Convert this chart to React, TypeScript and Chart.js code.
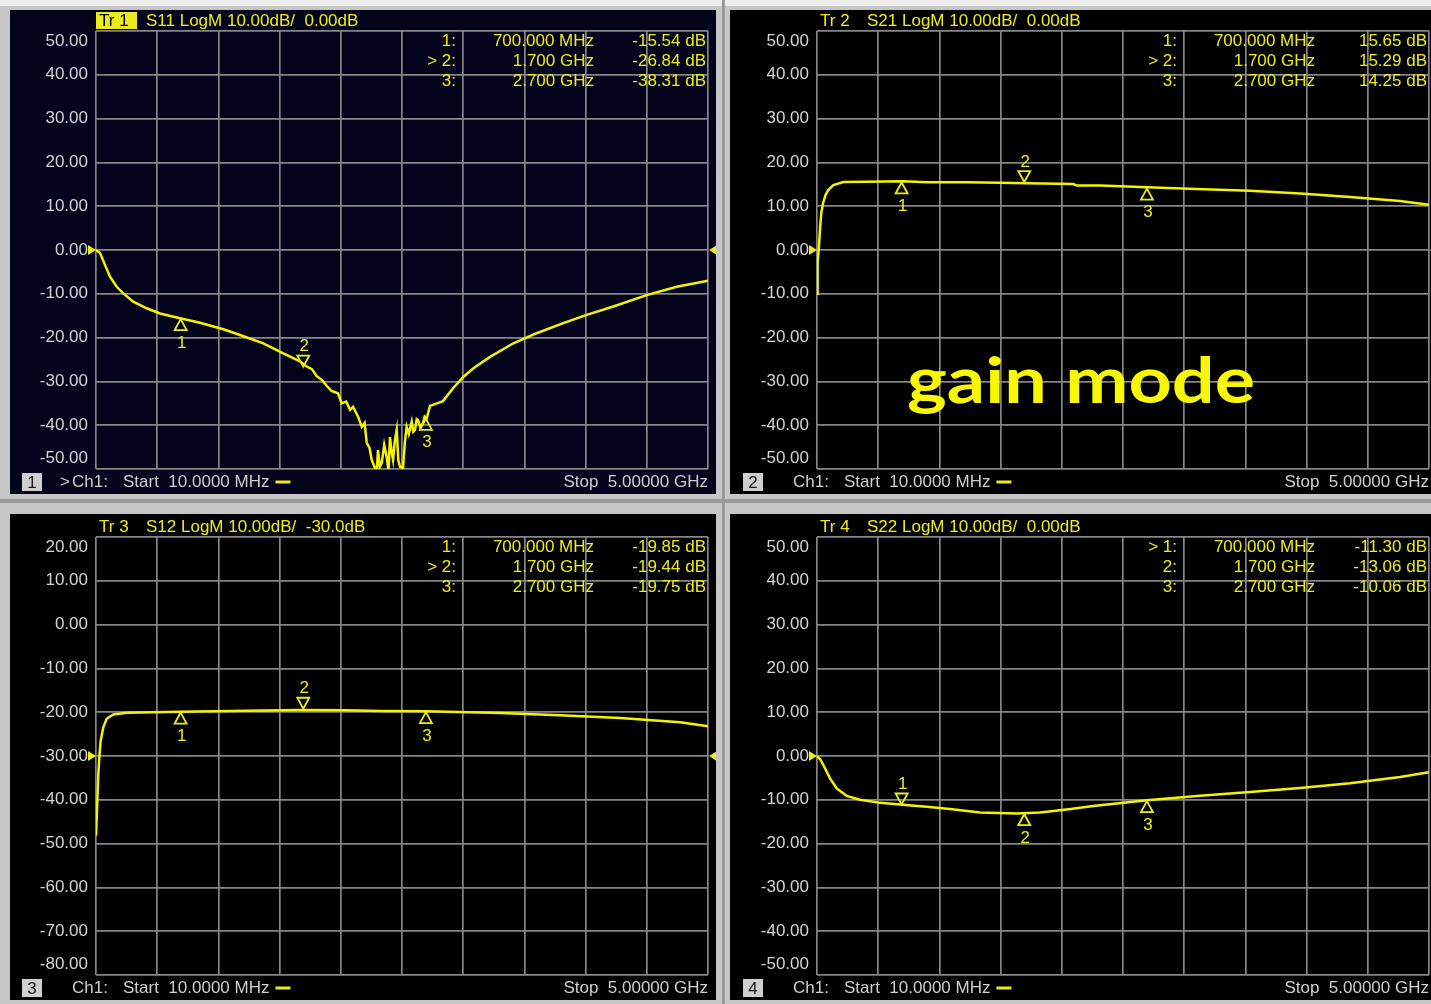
import React, { useEffect, useRef } from "react";
import { Chart, registerables } from "chart.js";
Chart.register(...registerables);

// ---------- data ----------
const xStartMHz = 10;
const xStopMHz = 5000;
const xDivisions = 10;

const markerFreqs = [700, 1700, 2700];
const markerFreqLabels = ["700.000 MHz", "1.700 GHz", "2.700 GHz"];

const s11Freq = [10, 43, 83, 124, 179, 233, 314, 423, 532, 695, 858, 1048, 1184, 1374, 1537, 1673, 1728, 1770, 1810, 1850, 1891, 1930, 1983, 2013, 2050, 2081, 2106, 2146, 2177, 2200, 2217, 2240, 2258, 2285, 2300, 2309, 2325, 2340, 2360, 2380, 2395, 2407, 2420, 2432, 2447, 2462, 2475, 2489, 2513, 2528, 2543, 2560, 2584, 2597, 2611, 2625, 2636, 2655, 2676, 2690, 2707, 2733, 2790, 2839, 2923, 3005, 3087, 3223, 3413, 3603, 3820, 4011, 4228, 4500, 4745, 5000];
const s11Db = [0, -0.7, -3.4, -6.1, -8.4, -9.9, -11.8, -13.3, -14.5, -15.6, -16.6, -18.1, -19.4, -21.3, -23.6, -25.4, -26.6, -27.2, -28.8, -29.6, -31.0, -32.2, -32.7, -35.0, -34.6, -36.5, -35.8, -38.0, -40.4, -39.5, -44.0, -45.2, -47.9, -49.8, -50.5, -45.7, -49.5, -48.6, -44.5, -47.2, -50.5, -42.7, -46.0, -47.9, -43.5, -41.0, -48.0, -49.5, -49.8, -44.0, -40.4, -42.0, -39.2, -41.5, -41.1, -38.6, -38.8, -40.5, -39.5, -38.0, -38.4, -35.6, -35.0, -34.5, -31.5, -29.0, -27.0, -24.4, -21.3, -19.0, -16.7, -14.8, -12.9, -10.3, -8.4, -7.0];

const s21Freq = [10, 15, 25, 35, 45, 60, 80, 102, 143, 224, 415, 714, 905, 1231, 1500, 1720, 2100, 2127, 2317, 2700, 3100, 3540, 3950, 4356, 4764, 5000];
const s21Db = [-10.0, -3.0, 0.5, 5.0, 8.5, 10.8, 12.6, 13.7, 14.8, 15.5, 15.6, 15.7, 15.45, 15.45, 15.35, 15.25, 15.05, 14.7, 14.7, 14.3, 13.9, 13.5, 12.9, 12.1, 11.2, 10.3];

const s12Freq = [10, 21, 29, 37, 48, 70, 97, 151, 260, 477, 695, 1103, 1673, 2054, 2326, 2700, 3304, 3793, 4283, 4772, 5000];
const s12Db = [-48.2, -40.2, -34.1, -30.3, -26.5, -23.4, -21.5, -20.5, -20.1, -20.0, -19.9, -19.7, -19.5, -19.55, -19.7, -19.8, -20.2, -20.7, -21.3, -22.3, -23.2];

const s22Freq = [10, 40, 75, 116, 171, 252, 361, 524, 687, 904, 1094, 1339, 1638, 1828, 2046, 2263, 2700, 3133, 3541, 3948, 4356, 4764, 5000];
const s22Db = [0.0, -0.9, -2.8, -5.1, -7.4, -9.1, -10.0, -10.7, -11.1, -11.6, -12.1, -12.9, -13.1, -12.9, -12.2, -11.4, -10.1, -9.1, -8.2, -7.3, -6.2, -4.8, -3.7];

const s11Markers = [-15.54, -26.84, -38.31];
const s21Markers = [15.65, 15.29, 14.25];
const s12Markers = [-19.85, -19.44, -19.75];
const s22Markers = [-11.3, -13.06, -10.06];

const FONT = '"Liberation Sans", Arial, sans-serif';
const YELLOW = "#ecec1c";
const TRACE = "#f4f400";

type PanelCfg = {
  tr: number;
  param: string;
  refText: string;
  yMin: number;
  yMax: number;
  ref: number;
  freqs: number[];
  vals: number[];
  markers: number[];
  active: number;
  bg: string;
  highlightTr: boolean;
  chPrefix: boolean;
  left: number;
  top: number;
  width: number;
  height: number;
  pad: { left: number; top: number; right: number; bottom: number };
  note?: string;
};

const panels: PanelCfg[] = [
  {
    tr: 1, param: "S11", refText: "0.00dB", yMin: -50, yMax: 50, ref: 0,
    freqs: s11Freq, vals: s11Db, markers: s11Markers, active: 1,
    bg: "#03031c", highlightTr: true, chPrefix: true,
    left: 10, top: 10, width: 706, height: 484,
    pad: { left: 86, top: 21, right: 8, bottom: 25 },
  },
  {
    tr: 2, param: "S21", refText: "0.00dB", yMin: -50, yMax: 50, ref: 0,
    freqs: s21Freq, vals: s21Db, markers: s21Markers, active: 1,
    bg: "#000000", highlightTr: false, chPrefix: false,
    left: 730, top: 10, width: 701, height: 484,
    pad: { left: 87, top: 21, right: 2, bottom: 25 },
    note: "gain mode",
  },
  {
    tr: 3, param: "S12", refText: "-30.0dB", yMin: -80, yMax: 20, ref: -30,
    freqs: s12Freq, vals: s12Db, markers: s12Markers, active: 1,
    bg: "#000000", highlightTr: false, chPrefix: false,
    left: 10, top: 514, width: 706, height: 486,
    pad: { left: 86, top: 23, right: 8, bottom: 25 },
  },
  {
    tr: 4, param: "S22", refText: "0.00dB", yMin: -50, yMax: 50, ref: 0,
    freqs: s22Freq, vals: s22Db, markers: s22Markers, active: 0,
    bg: "#000000", highlightTr: false, chPrefix: false,
    left: 730, top: 514, width: 701, height: 486,
    pad: { left: 87, top: 23, right: 2, bottom: 25 },
  },
];

function makePlugin(cfg: PanelCfg) {
  return {
    id: "vna" + cfg.tr,
    beforeDraw(chart: any) {
      const ctx = chart.ctx;
      ctx.save();
      ctx.fillStyle = cfg.bg;
      ctx.fillRect(0, 0, chart.width, chart.height);
      ctx.restore();
    },
    afterDraw(chart: any) {
      const ctx = chart.ctx;
      const { left, right, top, bottom } = chart.chartArea;
      const xs = chart.scales.x;
      const ys = chart.scales.y;
      ctx.save();

      // y tick labels
      ctx.font = `17px ${FONT}`;
      ctx.fillStyle = "#d4d4d4";
      ctx.textAlign = "right";
      ctx.textBaseline = "middle";
      ys.ticks.forEach((t: any) => {
        let py = ys.getPixelForValue(t.value);
        if (t.value === cfg.yMax) py += 10;
        if (t.value === cfg.yMin) py -= 11;
        ctx.fillText(Number(t.value).toFixed(2), left - 8, py);
      });

      // title
      const ty = top - 11;
      ctx.textAlign = "left";
      if (cfg.highlightTr) {
        ctx.fillStyle = YELLOW;
        ctx.fillRect(left, ty - 8, 41, 17);
        ctx.fillStyle = "#000000";
      } else {
        ctx.fillStyle = YELLOW;
      }
      ctx.fillText(`Tr ${cfg.tr}`, left + 3, ty + 1);
      ctx.fillStyle = YELLOW;
      ctx.fillText(`${cfg.param} LogM 10.00dB/  ${cfg.refText}`, left + 50, ty + 1);

      // marker readouts
      for (let i = 0; i < markerFreqs.length; i++) {
        const ry = top + 10 + 20 * i;
        ctx.textAlign = "right";
        ctx.fillText((cfg.active === i ? "> " : "") + (i + 1) + ":", left + 360, ry);
        ctx.fillText(markerFreqLabels[i], left + 498, ry);
        ctx.fillText(`${cfg.markers[i].toFixed(2)} dB`, left + 610, ry);
      }

      // markers on trace
      ctx.strokeStyle = YELLOW;
      ctx.lineWidth = 1.8;
      ctx.textAlign = "center";
      for (let i = 0; i < markerFreqs.length; i++) {
        const px = xs.getPixelForValue(markerFreqs[i]);
        const py = ys.getPixelForValue(cfg.markers[i]);
        ctx.beginPath();
        if (cfg.active === i) {
          ctx.moveTo(px, py - 1);
          ctx.lineTo(px - 6, py - 12);
          ctx.lineTo(px + 6, py - 12);
          ctx.closePath();
          ctx.stroke();
          ctx.fillText(String(i + 1), px + 1, py - 21);
        } else {
          ctx.moveTo(px, py + 1);
          ctx.lineTo(px - 6, py + 12);
          ctx.lineTo(px + 6, py + 12);
          ctx.closePath();
          ctx.stroke();
          ctx.fillText(String(i + 1), px + 1, py + 25);
        }
      }

      // reference arrows
      const rp = ys.getPixelForValue(cfg.ref);
      ctx.fillStyle = YELLOW;
      ctx.beginPath();
      ctx.moveTo(left - 8, rp - 5);
      ctx.lineTo(left - 8, rp + 5);
      ctx.lineTo(left, rp);
      ctx.closePath();
      ctx.fill();
      ctx.beginPath();
      ctx.moveTo(right + 9, rp - 5);
      ctx.lineTo(right + 9, rp + 5);
      ctx.lineTo(right + 1, rp);
      ctx.closePath();
      ctx.fill();

      // footer
      const fy = bottom + 13;
      ctx.fillStyle = "#cfcfcf";
      ctx.fillRect(left - 74, fy - 9, 20, 18);
      ctx.fillStyle = "#1a1a1a";
      ctx.textAlign = "center";
      ctx.fillText(String(cfg.tr), left - 64, fy + 1);
      ctx.fillStyle = "#cfcfcf";
      ctx.textAlign = "left";
      if (cfg.chPrefix) ctx.fillText(">", left - 36, fy);
      ctx.fillText("Ch1:", left - 24, fy);
      const startTxt = "Start  10.0000 MHz";
      ctx.fillText(startTxt, left + 27, fy);
      const sw = ctx.measureText(startTxt).width;
      ctx.fillStyle = YELLOW;
      ctx.fillRect(left + 27 + sw + 6, fy - 1.5, 15, 3);
      ctx.fillStyle = "#cfcfcf";
      ctx.textAlign = "right";
      ctx.fillText("Stop  5.00000 GHz", right, fy);

      // note
      if (cfg.note) {
        ctx.font = `bold 64px Lato, "Open Sans", sans-serif`;
        ctx.textAlign = "left";
        ctx.textBaseline = "alphabetic";
        const w = ctx.measureText(cfg.note).width;
        ctx.translate(left + 90, top + 372);
        ctx.scale(348 / w, 1);
        ctx.fillStyle = "#f8f800";
        ctx.fillText(cfg.note, 0, 0);
      }
      ctx.restore();
    },
  };
}

function Panel({ cfg }: { cfg: PanelCfg }) {
  const ref = useRef<HTMLCanvasElement | null>(null);
  useEffect(() => {
    const canvas = ref.current;
    if (!canvas) return;
    const grid = {
      color: "#868686",
      lineWidth: 1.7,
      drawTicks: false,
    };
    const chart = new Chart(canvas, {
      type: "line",
      data: {
        datasets: [
          {
            data: cfg.freqs.map((f, i) => ({ x: f, y: cfg.vals[i] })),
            borderColor: TRACE,
            borderWidth: 2.5,
            pointRadius: 0,
            tension: 0,
            fill: false,
          },
        ],
      },
      options: {
        responsive: false,
        animation: false,
        devicePixelRatio: 1,
        events: [],
        layout: { padding: cfg.pad },
        plugins: {
          legend: { display: false },
          tooltip: { enabled: false },
          title: { display: false },
        },
        scales: {
          x: {
            type: "linear",
            min: xStartMHz,
            max: xStopMHz,
            afterBuildTicks: (s: any) => {
              const step = (xStopMHz - xStartMHz) / xDivisions;
              s.ticks = Array.from({ length: xDivisions + 1 }, (_, i) => ({ value: xStartMHz + i * step }));
            },
            grid,
            border: { display: false },
            ticks: { display: false },
          },
          y: {
            type: "linear",
            min: cfg.yMin,
            max: cfg.yMax,
            ticks: { display: false, stepSize: 10 },
            grid,
            border: { display: false },
          },
        },
      } as any,
      plugins: [makePlugin(cfg)],
    });
    return () => chart.destroy();
  }, [cfg]);
  return (
    <canvas
      ref={ref}
      width={cfg.width}
      height={cfg.height}
      style={{ position: "absolute", left: cfg.left, top: cfg.top, width: cfg.width, height: cfg.height, display: "block" }}
    />
  );
}

export default function App() {
  return (
    <div
      style={{
        position: "fixed",
        left: 0,
        top: 0,
        width: 1431,
        height: 1004,
        background: "#c6c6c6",
        overflow: "hidden",
      }}
    >
      <div style={{ position: "absolute", left: 0, top: 0, width: 1431, height: 6, background: "#ececec" }} />
      <div style={{ position: "absolute", left: 0, top: 499, width: 1431, height: 4, background: "#9a9a9a" }} />
      <div style={{ position: "absolute", left: 722, top: 0, width: 3, height: 1004, background: "#9a9a9a" }} />
      {panels.map((p) => (
        <Panel key={p.tr} cfg={p} />
      ))}
    </div>
  );
}
